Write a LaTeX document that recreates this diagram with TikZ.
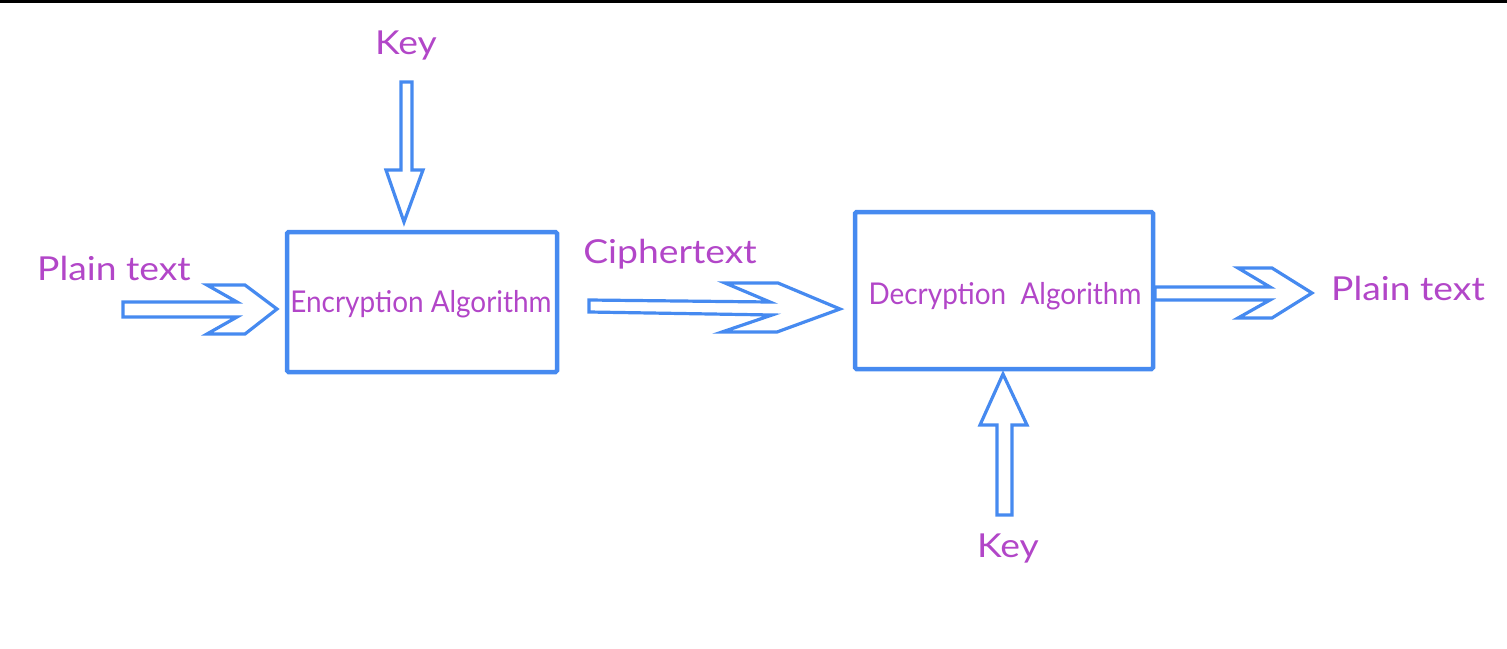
\documentclass[tikz,border=0pt]{standalone}
\usepackage{fontspec}
\setmainfont{Lato}
\definecolor{arrblue}{RGB}{70,138,240}
\definecolor{txtpurple}{RGB}{178,70,200}
\newcommand{\widetxt}[1]{\scalebox{1.13}[1]{#1}}
\begin{document}
\begin{tikzpicture}[x=1pt,y=-1pt,
 lbl/.style={text=txtpurple,font=\fontsize{33}{40}\selectfont,inner sep=0},
 alglbl/.style={text=txtpurple,font=\fontsize{30}{36}\selectfont,inner sep=0},
 algbox/.style={draw=arrblue,line width=4.5pt,rounded corners=1.5pt,inner sep=0},
 blockarrow/.style={draw=arrblue,line width=3.2pt,line join=miter,fill=white}]
\useasboundingbox (0,0) rectangle (1507,648);
\fill[black] (0,0) rectangle (1507,2.5);
% boxes
\node[algbox,minimum width=270pt,minimum height=140pt] (enc) at (422,302) {};
\node[algbox,minimum width=298pt,minimum height=157pt] (dec) at (1004,290.5) {};
\node[alglbl] (enctxt) at (421,304) {\scalebox{0.93}[1]{Encryption Algorithm}};
\node[alglbl] (dectxt) at (1005,296) {\scalebox{0.93}[1]{Decryption\ \ Algorithm}};
% labels
\node[lbl] (key1) at (406,46) {\widetxt{Key}};
\node[lbl] (pt1) at (114,268) {\widetxt{Plain text}};
\node[lbl] (ct) at (670,254) {\widetxt{Ciphertext}};
\node[lbl] (pt2) at (1408,288) {\widetxt{Plain text}};
\node[lbl] (key2) at (1008,548) {\widetxt{Key}};
% block arrows
\draw[blockarrow] (123,302) -- (237,302) -- (207,285) -- (245,285) -- (277,309) -- (245,334) -- (207,334) -- (237,317) -- (123,317) -- cycle;
\draw[blockarrow] (589,300) -- (770,302) -- (725,283) -- (778,283) -- (840,309) -- (777,332) -- (722,332) -- (772,315) -- (589,312) -- cycle;
\draw[blockarrow] (1155,287) -- (1270,287) -- (1238,268) -- (1272,268) -- (1312,293) -- (1272,318) -- (1238,318) -- (1270,300) -- (1155,300) -- cycle;
\draw[blockarrow] (401,82) -- (412,82) -- (412,170) -- (423,170) -- (404,222) -- (386,170) -- (401,170) -- cycle;
\draw[blockarrow] (997,515) -- (1012,515) -- (1012,425) -- (1027,425) -- (1003,374) -- (980,425) -- (997,425) -- cycle;
\end{tikzpicture}
\end{document}
